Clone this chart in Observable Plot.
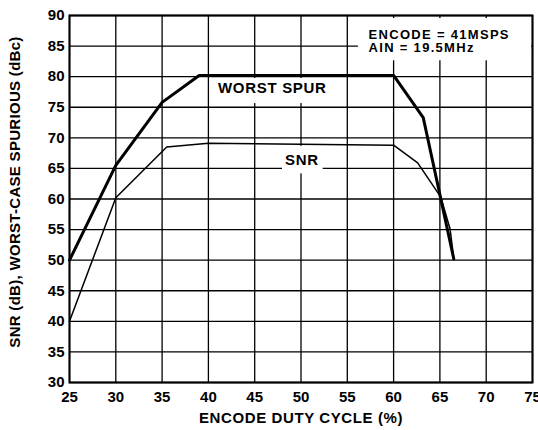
<!DOCTYPE html>
<html>
<head>
<meta charset="utf-8">
<script src="https://cdn.jsdelivr.net/npm/d3@7"></script>
<script src="https://cdn.jsdelivr.net/npm/@observablehq/plot@0.6"></script>
<style>
  html, body { margin: 0; padding: 0; background: white; }
</style>
</head>
<body>
<div id="chart"></div>
<script>
// Worst spur (thick line)
const spurDuty = [25, 30, 35, 39, 60, 63.2, 66.5];
const spurValue = [50, 65.5, 75.8, 80.2, 80.2, 73.3, 50.2];
// SNR (thin line)
const snrDuty = [25, 30, 35.5, 40, 60, 62.6, 65.1, 66.1, 66.5];
const snrValue = [40, 60.2, 68.5, 69.1, 68.8, 65.9, 60.3, 55.1, 50.2];

const xTicks = [25, 30, 35, 40, 45, 50, 55, 60, 65, 70, 75];
const yTicks = [30, 35, 40, 45, 50, 55, 60, 65, 70, 75, 80, 85, 90];

// Annotation labels (data units) and their white backing boxes
const labelText = ["WORST SPUR", "SNR"];
const labelX = [46.9, 50.1];
const labelY = [78.05, 66.4];
const noteText = ["ENCODE = 41MSPS\nAIN = 19.5MHz"];
const noteX = [57.3];
const noteY = [85.8];
const boxX1 = [40.3, 48.0, 56.2];
const boxX2 = [54.8, 52.4, 74.9];
const boxY1 = [75.6, 64.1, 82.6];
const boxY2 = [79.7, 68.6, 89.5];

const spur = spurDuty.map((d, i) => ({duty: d, value: spurValue[i]}));
const snr = snrDuty.map((d, i) => ({duty: d, value: snrValue[i]}));
const labels = labelText.map((t, i) => ({text: t, x: labelX[i], y: labelY[i]}));
const notes = noteText.map((t, i) => ({text: t, x: noteX[i], y: noteY[i]}));
const boxes = boxX1.map((d, i) => ({x1: d, x2: boxX2[i], y1: boxY1[i], y2: boxY2[i]}));

const chart = Plot.plot({
  width: 538,
  height: 430,
  marginLeft: 69,
  marginRight: 6,
  marginTop: 15,
  marginBottom: 48,
  style: {
    fontFamily: "'Liberation Sans', Arial, sans-serif",
    fontWeight: "bold",
    fontSize: "15px",
    color: "black",
    background: "white",
    overflow: "hidden"
  },
  x: {
    domain: [25, 75],
    ticks: xTicks,
    tickSize: 0,
    tickPadding: 9,
    label: "ENCODE DUTY CYCLE (%)",
    labelArrow: false,
    labelAnchor: "center",
    labelOffset: 40
  },
  y: {
    domain: [30, 90],
    ticks: yTicks,
    tickSize: 0,
    tickPadding: 5,
    label: "SNR (dB), WORST-CASE SPURIOUS (dBc)",
    labelArrow: false,
    labelAnchor: "center",
    labelOffset: 60
  },
  marks: [
    Plot.ruleX(xTicks, {stroke: "black", strokeWidth: 1.3}),
    Plot.ruleY(yTicks, {stroke: "black", strokeWidth: 1.3}),
    Plot.rect(boxes, {x1: "x1", x2: "x2", y1: "y1", y2: "y2", fill: "white"}),
    Plot.frame({stroke: "black", strokeWidth: 2}),
    Plot.line(snr, {x: "duty", y: "value", stroke: "black", strokeWidth: 1.5}),
    Plot.line(spur, {x: "duty", y: "value", stroke: "black", strokeWidth: 3}),
    Plot.text(labels, {x: "x", y: "y", text: "text", textAnchor: "middle", fontSize: 15, fontWeight: "bold", fill: "black", className: "lbl"}),
    Plot.text(notes, {x: "x", y: "y", text: "text", textAnchor: "start", lineHeight: 1.05, fontSize: 13, fontWeight: "bold", fill: "black", className: "note"})
  ]
});
document.getElementById("chart").appendChild(chart);

// typographic fine-tuning
d3.select(chart).selectAll(".lbl text").attr("letter-spacing", "0.7px");
d3.select(chart).selectAll(".note text").attr("letter-spacing", "1.3px");
d3.select(chart).selectAll('[aria-label="x-axis label"] text').attr("letter-spacing", "0.6px");
d3.select(chart).selectAll('[aria-label="y-axis label"]').each(function() {
  const g = d3.select(this);
  const t = g.attr("transform") || "";
  g.attr("transform", "translate(0,-7) " + t);
});
d3.select(chart).selectAll('[aria-label="y-axis label"] text').attr("letter-spacing", "0.3px");
</script>
</body>
</html>
